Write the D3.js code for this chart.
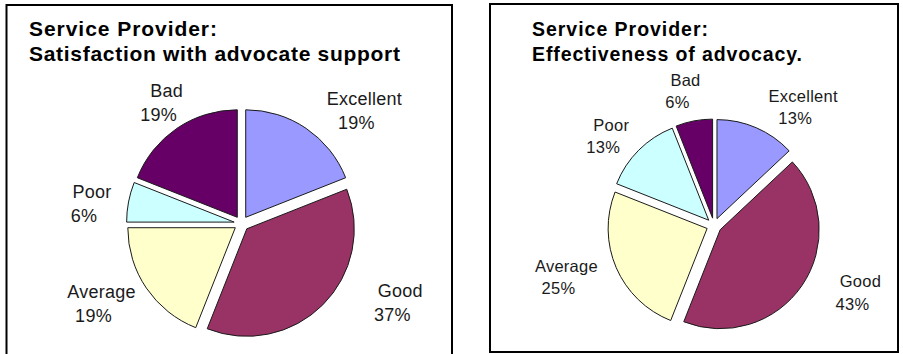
<!DOCTYPE html>
<html>
<head>
<meta charset="utf-8">
<script src="https://cdn.jsdelivr.net/npm/d3@7"></script>
<style>
  html, body { margin: 0; padding: 0; background: #fff; }
  svg { display: block; font-family: Arial, "Liberation Sans", sans-serif; }
</style>
</head>
<body>
<div id="charts"></div>
<script>
// Service provider survey - two exploded pies
const categories = ["Excellent", "Good", "Average", "Poor", "Bad"];
const satisfactionValues = [19, 37, 19, 6, 19];
const effectivenessValues = [13, 43, 25, 13, 6];
const sliceColors = ["#9999FF", "#993366", "#FFFFCC", "#CCFFFF", "#660066"];

const satisfactionTitle = ["Service Provider:", "Satisfaction with advocate support"];
const effectivenessTitle = ["Service Provider:", "Effectiveness of advocacy."];

const svg = d3.select("#charts")
  .append("svg")
  .attr("width", 903)
  .attr("height", 354);

// layout for each panel (labels were hand-placed in the original, so nudges)
const panels = [
  {
    values: satisfactionValues, title: satisfactionTitle,
    box: { x: 6.5, y: 5, w: 445.5, h: 360 },
    titleX: 29, titleY: 36, titleGap: 25, titleSize: 21, titleWidths: [188, 371],
    cx: 241.5, cy: 223.5, r: 107.5, labelSize: 18, lineGap: 24,
    nudges: [[40, 3.5], [54.5, -31], [-18, -8], [-4.5, 2.5], [8, -5]]
  },
  {
    values: effectivenessValues, title: effectivenessTitle,
    box: { x: 490, y: 4, w: 408, h: 348 },
    titleX: 532, titleY: 36, titleGap: 25, titleSize: 19.5, titleWidths: [176, 270],
    cx: 714, cy: 225.5, r: 99, labelSize: 16.5, lineGap: 22.5,
    nudges: [[34, 4], [31.5, -16.5], [-20, -9], [-4.5, 3.5], [-2.5, -3]]
  }
];

const explode = 7.5;
const labelPad = 40;

const color = d3.scaleOrdinal().domain(categories).range(sliceColors);

panels.forEach(p => {
  const g = svg.append("g");

  // Panel frame
  g.append("rect")
    .attr("x", p.box.x)
    .attr("y", p.box.y)
    .attr("width", p.box.w)
    .attr("height", p.box.h)
    .attr("fill", "#fff")
    .attr("stroke", "#000")
    .attr("stroke-width", 2);

  // Title
  p.title.forEach((line, i) => {
    g.append("text")
      .attr("x", p.titleX)
      .attr("y", p.titleY + i * p.titleGap)
      .attr("font-size", p.titleSize)
      .attr("font-weight", "bold")
      .attr("textLength", p.titleWidths[i])
      .attr("lengthAdjust", "spacing")
      .attr("fill", "#000")
      .text(line);
  });

  const data = categories.map((c, i) => ({ name: c, value: p.values[i] }));

  const pie = d3.pie()
    .sort(null)
    .value(d => d.value);

  const arcs = pie(data);

  const arc = d3.arc()
    .innerRadius(0)
    .outerRadius(p.r);

  const labelArc = d3.arc()
    .innerRadius(p.r + labelPad)
    .outerRadius(p.r + labelPad);

  const pieG = g.append("g")
    .attr("transform", `translate(${p.cx},${p.cy})`);

  // Slices, each pulled out along its bisector
  pieG.selectAll("path")
    .data(arcs)
    .join("path")
    .attr("transform", d => {
      const mid = (d.startAngle + d.endAngle) / 2;
      return `translate(${Math.sin(mid) * explode},${-Math.cos(mid) * explode})`;
    })
    .attr("d", arc)
    .attr("fill", d => color(d.data.name))
    .attr("stroke", "#1a1a1a")
    .attr("stroke-width", 1)
    .attr("stroke-linejoin", "round");

  // Data labels
  const labels = pieG.selectAll("text.lbl")
    .data(arcs)
    .join("text")
    .attr("class", "lbl")
    .attr("font-size", p.labelSize)
    .attr("letter-spacing", 0.25)
    .attr("fill", "#1a1a1a")
    .attr("text-anchor", "middle")
    .attr("transform", (d, i) => {
      const [x, y] = labelArc.centroid(d);
      return `translate(${x + p.nudges[i][0]},${y + p.nudges[i][1]})`;
    });

  labels.append("tspan")
    .attr("x", 0)
    .attr("y", 0)
    .text(d => d.data.name);

  labels.append("tspan")
    .attr("x", -8)
    .attr("y", p.lineGap)
    .text(d => d.data.value + "%");
});
</script>
</body>
</html>
